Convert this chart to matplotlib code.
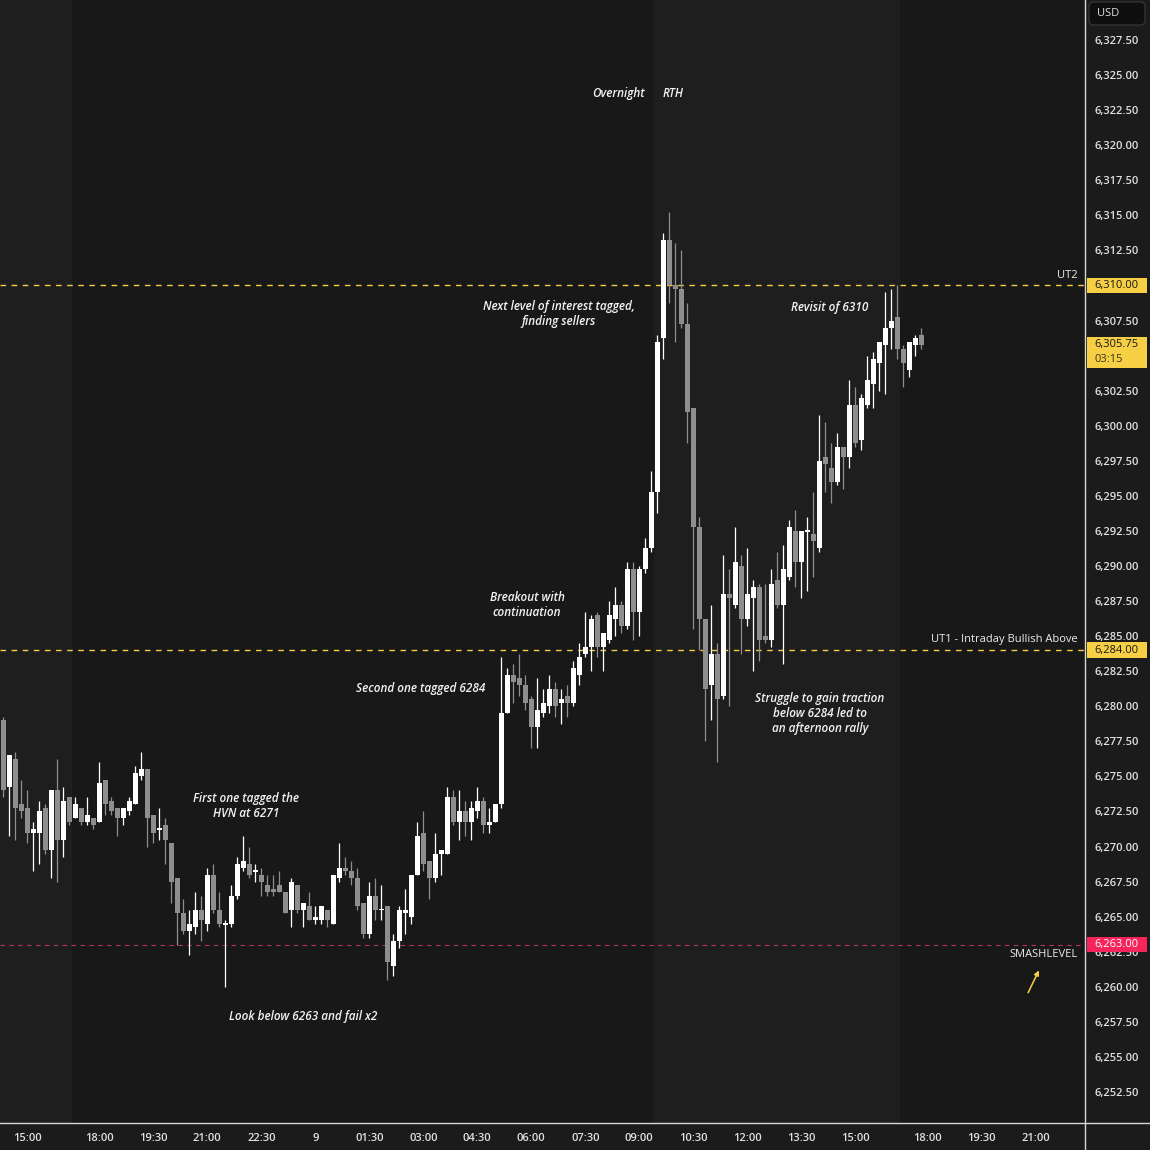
import numpy as np
import matplotlib.pyplot as plt
from matplotlib.transforms import blended_transform_factory
from matplotlib.patches import Rectangle, FancyBboxPatch
from matplotlib.lines import Line2D

# 10 minute candles
opens = [6279.0, 6274.25, 6276.25, 6273.0, 6272.75, 6271.0, 6271.0, 6272.75, 6269.75, 6274.0,
         6270.5, 6273.5, 6272.0, 6272.75, 6271.75, 6272.0, 6271.75, 6274.75, 6273.25, 6272.75,
         6272.0, 6272.5, 6273.0, 6275.0, 6275.5, 6272.25, 6271.25, 6271.5, 6270.25, 6267.75,
         6265.25, 6264.0, 6264.25, 6265.5, 6264.5, 6268.0, 6265.5, 6264.5, 6264.5, 6266.5,
         6268.5, 6268.75, 6268.25, 6268.0, 6267.25, 6267.0, 6267.25, 6266.75, 6265.5, 6267.25,
         6265.5, 6265.75, 6264.75, 6264.75, 6265.5, 6264.5, 6267.75, 6268.5, 6268.25, 6267.75,
         6266.0, 6263.75, 6266.5, 6265.5, 6265.75, 6261.5, 6263.25, 6265.25, 6265.0, 6268.0,
         6271.0, 6269.0, 6267.75, 6269.5, 6269.5, 6273.5, 6271.75, 6272.5, 6271.75, 6272.5,
         6273.25, 6271.5, 6271.75, 6273.0, 6279.5, 6282.25, 6282.0, 6281.5, 6280.5, 6278.5,
         6279.5, 6280.0, 6281.25, 6280.25, 6280.75, 6280.25, 6282.25, 6283.75, 6284.25, 6286.5,
         6284.25, 6284.75, 6286.25, 6287.25, 6285.75, 6289.75, 6286.75, 6289.75, 6291.25, 6295.25,
         6306.25, 6313.25, 6310.0, 6309.75, 6307.25, 6301.25, 6292.75, 6286.25, 6281.5, 6283.75,
         6280.75, 6288.0, 6287.25, 6290.0, 6286.25, 6287.75, 6288.5, 6285.0, 6284.75, 6289.0,
         6287.25, 6289.25, 6292.5, 6290.25, 6292.5, 6292.25, 6291.25, 6297.75, 6297.0, 6296.0,
         6298.5, 6297.75, 6301.5, 6299.0, 6301.5, 6303.0, 6304.5, 6305.75, 6307.0, 6307.75,
         6305.5, 6304.0, 6305.75, 6306.5]
highs = [6279.25, 6276.5, 6276.75, 6274.75, 6274.0, 6271.75, 6273.25, 6273.0, 6274.0, 6276.25,
         6274.25, 6273.5, 6273.5, 6272.75, 6273.5, 6272.0, 6276.0, 6274.75, 6273.5, 6272.75,
         6272.75, 6273.5, 6275.75, 6276.75, 6275.5, 6272.25, 6272.75, 6272.0, 6270.25, 6267.75,
         6266.25, 6265.5, 6266.75, 6266.5, 6268.5, 6268.75, 6266.75, 6264.75, 6267.25, 6269.25,
         6270.75, 6270.0, 6268.75, 6268.5, 6268.0, 6268.0, 6268.25, 6266.75, 6267.75, 6267.25,
         6266.0, 6266.75, 6265.75, 6265.75, 6265.5, 6268.0, 6270.25, 6269.25, 6269.0, 6268.5,
         6266.0, 6267.5, 6267.75, 6267.25, 6265.75, 6263.75, 6265.75, 6267.0, 6268.0, 6271.75,
         6272.5, 6269.0, 6271.0, 6269.75, 6274.25, 6274.0, 6274.0, 6273.25, 6273.25, 6274.25,
         6273.5, 6272.75, 6273.0, 6283.5, 6282.75, 6283.0, 6283.75, 6282.25, 6280.75, 6282.0,
         6281.25, 6282.25, 6281.75, 6281.25, 6281.5, 6283.25, 6284.5, 6286.75, 6286.5, 6286.75,
         6285.25, 6287.5, 6288.5, 6287.5, 6290.25, 6290.25, 6290.0, 6292.0, 6296.75, 6306.5,
         6313.75, 6315.25, 6313.0, 6312.5, 6308.75, 6301.25, 6293.5, 6286.25, 6287.25, 6284.5,
         6290.75, 6289.75, 6292.75, 6290.75, 6291.25, 6289.0, 6288.75, 6288.75, 6289.75, 6291.0,
         6291.5, 6293.25, 6294.0, 6292.5, 6293.5, 6295.25, 6300.75, 6300.25, 6298.75, 6299.5,
         6298.5, 6303.25, 6302.75, 6302.25, 6305.0, 6305.25, 6306.0, 6309.5, 6309.75, 6310.0,
         6305.75, 6306.0, 6306.5, 6307.0]
lows = [6273.5, 6270.75, 6270.5, 6272.0, 6270.25, 6268.25, 6268.75, 6269.5, 6267.75, 6267.5,
        6269.25, 6271.5, 6272.0, 6271.5, 6271.5, 6271.25, 6271.75, 6272.25, 6272.25, 6270.75,
        6271.5, 6272.25, 6273.0, 6274.75, 6270.0, 6270.25, 6270.5, 6268.75, 6266.0, 6263.0,
        6263.75, 6262.25, 6263.75, 6263.25, 6264.0, 6265.25, 6264.25, 6260.0, 6264.25, 6266.25,
        6268.25, 6267.75, 6267.5, 6266.5, 6266.5, 6266.5, 6266.75, 6265.25, 6264.25, 6265.25,
        6264.25, 6264.75, 6264.5, 6264.5, 6264.25, 6264.5, 6267.5, 6268.0, 6267.25, 6265.5,
        6263.5, 6263.5, 6264.75, 6264.75, 6260.5, 6260.75, 6262.75, 6263.75, 6264.5, 6268.0,
        6268.25, 6266.25, 6267.5, 6268.0, 6269.5, 6271.5, 6270.5, 6270.75, 6270.5, 6272.0,
        6271.0, 6271.0, 6271.75, 6272.75, 6279.5, 6280.25, 6280.75, 6279.75, 6277.0, 6277.0,
        6279.25, 6279.5, 6279.25, 6278.75, 6279.25, 6280.0, 6281.5, 6283.5, 6282.5, 6283.5,
        6282.5, 6284.5, 6285.0, 6285.25, 6285.5, 6284.75, 6285.0, 6289.5, 6291.0, 6293.75,
        6304.75, 6308.75, 6306.0, 6307.0, 6298.75, 6285.5, 6284.0, 6277.5, 6279.0, 6276.0,
        6280.5, 6280.0, 6287.0, 6283.75, 6285.75, 6282.5, 6283.25, 6284.5, 6284.25, 6287.0,
        6283.0, 6289.0, 6288.5, 6287.75, 6288.25, 6289.25, 6291.0, 6295.25, 6294.5, 6295.75,
        6295.5, 6297.0, 6298.5, 6298.25, 6301.25, 6301.25, 6302.5, 6302.25, 6305.5, 6304.75,
        6302.75, 6303.5, 6305.0, 6305.5]
closes = [6274.0, 6276.5, 6272.75, 6272.5, 6271.0, 6271.25, 6272.5, 6269.75, 6274.0, 6270.5,
          6273.25, 6271.75, 6273.0, 6271.75, 6272.25, 6271.5, 6274.5, 6273.0, 6272.5, 6272.0,
          6272.75, 6273.25, 6275.25, 6275.5, 6272.0, 6271.0, 6271.25, 6270.5, 6267.5, 6265.25,
          6264.0, 6264.5, 6265.5, 6264.75, 6268.0, 6265.5, 6264.5, 6264.5, 6266.5, 6268.75,
          6269.0, 6268.0, 6268.25, 6267.5, 6266.75, 6266.75, 6266.75, 6265.25, 6267.5, 6265.5,
          6266.0, 6264.75, 6265.0, 6265.75, 6264.75, 6268.0, 6268.5, 6268.25, 6267.75, 6265.75,
          6263.75, 6266.5, 6265.5, 6265.5, 6261.75, 6263.25, 6265.5, 6265.5, 6268.0, 6270.75,
          6268.75, 6267.75, 6269.5, 6269.75, 6273.5, 6271.75, 6272.5, 6271.75, 6272.75, 6273.25,
          6271.5, 6271.75, 6273.0, 6279.5, 6282.25, 6281.75, 6281.5, 6280.25, 6278.5, 6279.75,
          6280.25, 6281.25, 6280.0, 6280.5, 6280.25, 6282.75, 6283.5, 6284.25, 6286.25, 6284.25,
          6285.25, 6286.5, 6287.25, 6285.75, 6289.75, 6286.75, 6289.75, 6291.25, 6295.25, 6306.0,
          6313.25, 6310.0, 6309.75, 6307.25, 6301.0, 6292.75, 6286.25, 6281.25, 6283.75, 6280.5,
          6288.0, 6287.75, 6290.25, 6286.25, 6288.0, 6288.5, 6284.75, 6284.75, 6288.75, 6287.25,
          6289.75, 6292.75, 6290.25, 6292.5, 6292.5, 6291.75, 6297.5, 6297.25, 6296.0, 6298.5,
          6297.75, 6301.5, 6298.75, 6302.0, 6303.25, 6304.75, 6306.0, 6307.0, 6307.5, 6305.5,
          6304.5, 6306.0, 6306.25, 6305.75]

time_ticks = [4, 16, 25, 34, 43, 52, 61, 70, 79, 88, 97, 106, 115, 124, 133, 142, 154, 163, 172]
time_labels = ['15:00', '18:00', '19:30', '21:00', '22:30', '9', '01:30', '03:00', '04:30', '06:00',
               '07:30', '09:00', '10:30', '12:00', '13:30', '15:00', '18:00', '19:30', '21:00']

# RTH sessions (candle index boundaries)
rth_sessions = [(-1, 11.5), (108.5, 149.5)]

ut2 = 6310.0
ut1 = 6284.0
smash = 6263.0
last_time = '03:15'

BG = '#181818'
RTH_BG = '#1e1e1e'
TXT = '#e0e0e0'
YEL = '#f7cf45'
RED = '#f5245a'

plt.rcParams['font.family'] = ['Open Sans', 'DejaVu Sans']

fig = plt.figure(figsize=(11.5, 11.5), dpi=100, facecolor='#1b1b1b')
ax = fig.add_axes([0, 27 / 1150, 1085 / 1150, 1123 / 1150])
ax.set_facecolor(BG)

o = np.array(opens); h = np.array(highs); l = np.array(lows); c = np.array(closes)
x = np.arange(len(o))
cols = np.where(c >= o, '#ffffff', '#8e8e8e')

for a, b in rth_sessions:
    ax.axvspan(a, b, color=RTH_BG, lw=0, zorder=0)

ax.vlines(x, l, h, colors=cols, lw=0.9, zorder=3)
body = np.maximum(np.abs(c - o), 0.12)
bottom = np.where(np.abs(c - o) < 0.12, o - 0.06, np.minimum(o, c))
ax.bar(x, body, bottom=bottom, width=0.75, color=cols, lw=0, zorder=3)

ax.axhline(ut2, color=YEL, lw=1, dashes=(4, 4), zorder=2)
ax.axhline(ut1, color=YEL, lw=1, dashes=(4, 4), zorder=2)
ax.axhline(smash, color='#b8345a', lw=0.8, dashes=(4, 4), zorder=2)

ax.set_xlim(-0.55, 180.28)
ax.set_ylim(6250.29, 6330.35)

ax.yaxis.tick_right()
ax.set_yticks(np.arange(6252.5, 6330, 2.5))
ax.yaxis.set_major_formatter(plt.FuncFormatter(lambda v, p: f'{v:,.2f}'))
ax.tick_params(axis='y', length=0, pad=6.5, labelsize=8, labelcolor=TXT)
ax.set_xticks(time_ticks)
ax.set_xticklabels(time_labels)
ax.tick_params(axis='x', length=0, pad=7, labelsize=8, labelcolor=TXT)
for t in ax.get_xticklabels() + ax.get_yticklabels():
    t.set_fontweight('semibold')
for s in ax.spines.values():
    s.set_visible(False)

# frame lines of the price / time scales
fig.add_artist(Line2D([1085 / 1150] * 2, [0, 1], color='#d8d8d8', lw=1))
fig.add_artist(Line2D([0, 1], [27 / 1150] * 2, color='#d8d8d8', lw=1))

tr = blended_transform_factory(ax.transAxes, ax.transData)
for val, fc, tc in [(ut2, YEL, '#161616'), (ut1, YEL, '#161616'), (smash, RED, '#ffffff')]:
    ax.add_patch(Rectangle((1.002, val - 0.55), 0.0553, 1.1, transform=tr, fc=fc, ec='none',
                           clip_on=False, zorder=5))
    ax.text(1.0085, val, f'{val:,.2f}', transform=tr, va='center', ha='left', color=tc,
            fontsize=8, clip_on=False, zorder=6)

last = closes[-1]
ax.add_patch(Rectangle((1.002, last - 1.6), 0.0553, 2.2, transform=tr, fc=YEL, ec='none',
                       clip_on=False, zorder=5))
ax.text(1.0085, last + 0.05, f'{last:,.2f}', transform=tr, va='center', ha='left', color='#161616',
        fontsize=8, clip_on=False, zorder=6)
ax.text(1.0085, last - 1.05, last_time, transform=tr, va='center', ha='left', color='#3a3214',
        fontsize=8, clip_on=False, zorder=6)

# level names
lvl = dict(transform=tr, ha='right', color='#ececec', fontsize=8, fontweight='medium')
ax.text(0.9935, ut2 + 0.35, 'UT2', va='bottom', **lvl)
ax.text(0.9935, ut1 + 0.35, 'UT1 - Intraday Bullish Above', va='bottom', **lvl)
ax.text(0.9935, smash - 0.3, 'SMASHLEVEL', va='top', **lvl)
ax.annotate('', xy=(172.8, smash - 1.65), xytext=(170.6, smash - 3.6),
            arrowprops=dict(arrowstyle='-|>', color=YEL, lw=1.1, mutation_scale=7))

# notes
note = dict(color='#f2f2f2', fontsize=8.5, style='italic', fontweight='semibold', ha='center',
            va='center', linespacing=1.2)
ax.text(107.0, 6323.7, 'Overnight', **dict(note, ha='right'))
ax.text(109.8, 6323.7, 'RTH', **dict(note, ha='left'))
ax.text(92.6, 6308.0, 'Next level of interest tagged,\nfinding sellers', **note)
ax.text(137.8, 6308.4, 'Revisit of 6310', **note)
ax.text(87.3, 6287.2, 'Breakout with\ncontinuation', **note)
ax.text(69.5, 6281.3, 'Second one tagged 6284', **note)
ax.text(136.1, 6279.45, 'Struggle to gain traction\nbelow 6284 led to\nan afternoon rally', **note)
ax.text(40.5, 6272.9, 'First one tagged the\nHVN at 6271', **note)
ax.text(50.0, 6257.85, 'Look below 6263 and fail x2', **note)

# currency box
fig.add_artist(FancyBboxPatch((1089 / 1150, 1 - 25 / 1150), 56 / 1150, 23 / 1150,
                              boxstyle='round,pad=0,rounding_size=0.004', fc='#0f0f0f',
                              ec='#3a3a3a', lw=0.8, transform=fig.transFigure))
fig.text(1097 / 1150, 1 - 13 / 1150, 'USD', color=TXT, fontsize=8, va='center', ha='left')

plt.savefig('out.png', dpi=100, facecolor=fig.get_facecolor())
